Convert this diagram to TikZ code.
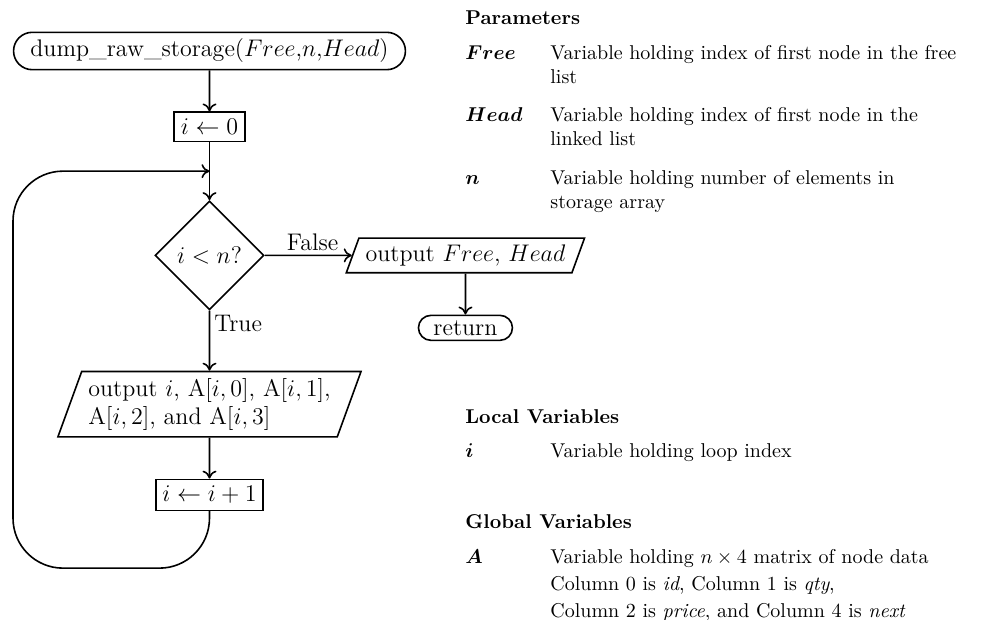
\documentclass[tikz,border=0pt]{standalone}
\usepackage{amsmath,amssymb}
\usepackage{tikz}
\usetikzlibrary{calc,arrows.meta,positioning,shapes.geometric,shapes.misc}

\begin{document}
\begin{tikzpicture}[
		node distance=20.5pt and 43.5pt,
		term/.style={rounded rectangle, draw, thick, font=\large, inner xsep=6.25pt},
		proc/.style={rectangle, draw, thick, font=\large},
		io/.style={trapezium, trapezium left angle=70, trapezium right angle=110, draw, thick, font=\large},
		decision/.style={diamond, draw, thick, font=\large},
		lbl/.style={font=\large, inner sep=2pt},
		line/.style={draw, thick, -{Computer Modern Rightarrow[length=4pt, width=7pt]}},
		head/.style={anchor=base west, inner sep=0pt, font=\bfseries},
		var/.style={anchor=base west, inner sep=0pt},
		desc/.style={anchor=base west, inner sep=0pt, text width=215pt, align=left}
	]
	\useasboundingbox (0,0) rectangle (492pt,-310pt);

	% Flowchart of the dump routine
	\node (start) [term] at (104.75pt,-25.5pt) {dump\_raw\_storage($Free$,$n$,$Head$)};
	\node (init) [proc, below=of start] {$i \leftarrow 0$};
	\node (dec) [decision, below=29pt of init] {$i < n$?};
	\node (outFH) [io, right=of dec] {output $Free$, $Head$};
	\node (ret) [term, below=of outFH, inner ysep=2.5pt] {return};
	\node (outI) [io, below=30pt of dec, align=left] {output $i$, A$[i,0]$, A$[i,1]$,\\A$[i,2]$, and A$[i,3]$};
	\node (inc) [proc, below=of outI] {$i \leftarrow i+1$};

	% Lines
	\draw [line] (start) -- (init);
	\draw [line] (init) -- (dec);
	\draw [line] (dec) -- node[lbl, above left, pos=0.9] {False} (outFH);
	\draw [line] (outFH) -- (ret);
	\draw [line] (dec) -- node[lbl, below right, pos=0] {True} (outI);
	\draw [line] (outI) -- (inc);

	% loop back to the test
	\coordinate (join) at ($(init.south)!0.5!(dec.north)$);
	\draw [line, rounded corners=25pt] (inc.south) -- ++(0,-28.5pt) -- ++(-98.25pt,0) |- (join);

	% Parameters, locals and globals
	\node (parHead) [head] at (232.5pt,-12.5pt) {Parameters};
	\node (freeVar) [var] at (232.5pt,-30pt) {$\boldsymbol{Free}$};
	\node (freeDesc) [desc] at (275pt,-30pt) {Variable holding index of first node in the free\\list};
	\node (headVar) [var] at (232.5pt,-61pt) {$\boldsymbol{Head}$};
	\node (headDesc) [desc] at (275pt,-61pt) {Variable holding index of first node in the\\linked list};
	\node (nVar) [var] at (232.5pt,-92.5pt) {$\boldsymbol{n}$};
	\node (nDesc) [desc] at (275pt,-92.5pt) {Variable holding number of elements in\\storage array};

	\node (locHead) [head] at (232.5pt,-211.5pt) {Local Variables};
	\node (iVar) [var] at (232.5pt,-228.5pt) {$\boldsymbol{i}$};
	\node (iDesc) [desc] at (275pt,-228.5pt) {Variable holding loop index};

	\node (globHead) [head] at (232.5pt,-264pt) {Global Variables};
	\node (aVar) [var] at (232.5pt,-281.5pt) {$\boldsymbol{A}$};
	\node (aDesc) [desc] at (275pt,-281.5pt) {Variable holding $n \times 4$ matrix of node data\\[1.5pt]Column 0 is \textit{id}, Column 1 is \textit{qty},\\[1.5pt]Column 2 is \textit{price}, and Column 4 is \textit{next}};
\end{tikzpicture}
\end{document}
